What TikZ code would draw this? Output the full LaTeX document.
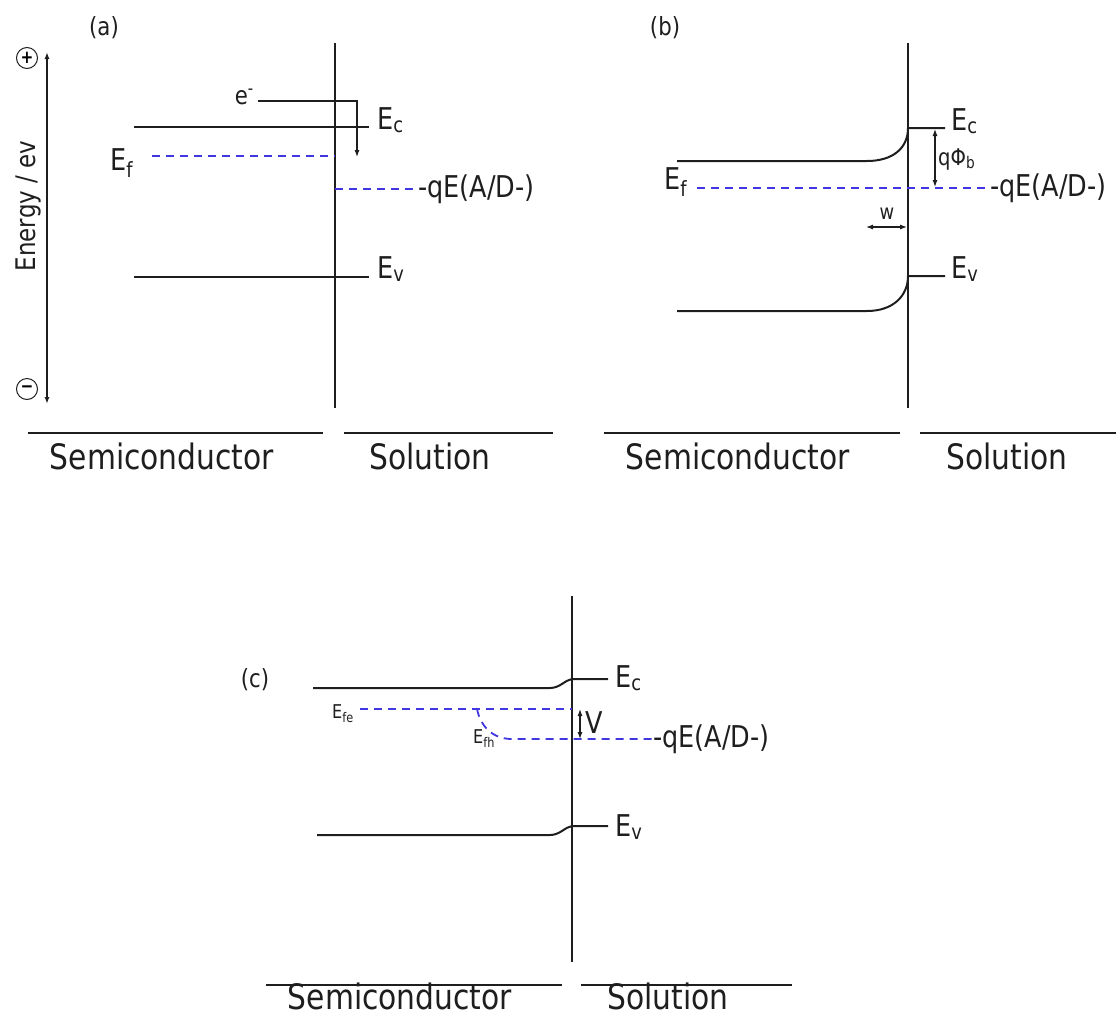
\documentclass[tikz,border=0pt]{standalone}
\usepackage{fontspec}
\setmainfont{DejaVu Sans}[FakeStretch=0.85]
\usetikzlibrary{arrows.meta}
\definecolor{fermi}{RGB}{65,55,225}
\definecolor{ink}{RGB}{30,30,30}
\tikzset{
  band/.style={draw=ink,line width=2pt},
  fermiline/.style={draw=fermi,line width=1.8pt,dash pattern=on 8pt off 6pt},
  thinarrow/.style={draw=ink,line width=1.1pt},
  elabel/.style={font=\fontsize{30}{32}\selectfont,anchor=base west,inner sep=0pt,text=ink},
  smalllabel/.style={font=\fontsize{19}{20}\selectfont,anchor=base west,inner sep=0pt,text=ink},
  redox/.style={font=\fontsize{30}{32}\selectfont,anchor=west,inner sep=0pt,text=ink},
  panel/.style={font=\fontsize{25}{27}\selectfont,text=ink},
  sidetext/.style={font=\fontsize{35}{40}\selectfont,text=ink,inner sep=0pt},
  sign/.style={circle,draw=ink,line width=1pt,minimum size=21pt,inner sep=0pt,font=\bfseries\fontsize{18}{18}\selectfont},
}
\begin{document}
\begin{tikzpicture}[x=1pt,y=-1pt,>={Latex[length=7pt,width=5pt]}]
\useasboundingbox (0,0) rectangle (1116,1018);

% (a) flat bands
\node[panel] (pa) at (104,28) {(a)};
\node[sign] (pos) at (27,58) {+};
\node[sign] (neg) at (27,389) {−};
\coordinate (etop) at (47,52);
\coordinate (ebot) at (47,404);
\draw[band,line width=1.4pt,<->] (ebot) -- (etop);
\node[panel,font=\fontsize{27}{29}\selectfont,rotate=90] (energy) at (28,206) {Energy / ev};
\draw[band] (335,43) -- (335,408);
\draw[band] (134,127) -- (369,127);
\draw[band] (134,277) -- (369,277);
\node[elabel] (eca) at (377,129) {E\textsubscript{c}};
\node[elabel] (eva) at (377,278) {E\textsubscript{v}};
\node[elabel] (efa) at (110,170) {E\textsubscript{f}};
\draw[fermiline] (152,156) -- (335,156);
\draw[fermiline] (335,189) -- (418,189);
\node[redox] (qea) at (418,189) {-qE(A/D-)};
\node[panel,anchor=base east,inner sep=0pt] (elec) at (254,104) {e\textsuperscript{-}};
\draw[thinarrow,->] ([xshift=4pt,yshift=3pt]elec.base east) -| (357,157);

% (b) depletion layer
\node[panel] (pb) at (665,28) {(b)};
\draw[band] (908,43) -- (908,408);
\draw[band] (677,161) -- (867,161) .. controls (893,161) and (908,148) .. (908,128) -- (945,128);
\draw[band] (677,311) -- (867,311) .. controls (893,311) and (908,296) .. (908,276) -- (945,276);
\node[elabel] (ecb) at (951,130) {E\textsubscript{c}};
\node[elabel] (evb) at (951,278) {E\textsubscript{v}};
\node[elabel] (efb) at (664,189) {E\textsubscript{f}};
\draw[fermiline] (697,188) -- (990,188);
\node[redox] (qeb) at (990,188) {-qE(A/D-)};
\draw[thinarrow,<->] (935,129) -- (935,187);
\node[smalllabel,font=\fontsize{23}{25}\selectfont] (phib) at (938,165) {qΦ\textsubscript{b}};
\draw[thinarrow,<->] (866,227) -- (907,227);
\node[panel,font=\fontsize{21}{23}\selectfont] (wid) at (887,214) {w};

% (c) under illumination
\node[panel] (pc) at (255,680) {(c)};
\draw[band] (572,596) -- (572,962);
\draw[band] (313,688) -- (550,688) .. controls (560,688) and (565,680) .. (572,679) -- (608,679);
\draw[band] (317,835) -- (550,835) .. controls (560,835) and (565,827) .. (572,826) -- (608,826);
\node[elabel] (ecc) at (615,687) {E\textsubscript{c}};
\node[elabel] (evc) at (615,836) {E\textsubscript{v}};
\draw[fermiline] (360,709) -- (572,709);
\draw[fermiline] (477,709) .. controls (481,728) and (494,739) .. (512,739) -- (653,739);
\node[smalllabel] (efe) at (332,718) {E\textsubscript{fe}};
\node[smalllabel] (efh) at (473,743) {E\textsubscript{fh}};
\node[redox] (qec) at (653,739) {-qE(A/D-)};
\draw[thinarrow,<->] (580,709) -- (580,739);
\node[elabel] (volt) at (585,733) {V};

% phase labels
\foreach \xa/\xb/\yy in {28/323/433,344/553/433,604/900/433,920/1116/433,266/562/985,581/792/985}
  \draw[band] (\xa,\yy) -- (\xb,\yy);
\foreach \t/\x/\y [count=\i] in {Semiconductor/162/456,Solution/430/456,Semiconductor/738/456,Solution/1007/456,Semiconductor/400/996,Solution/668/996}
  \node[sidetext] (side\i) at (\x,\y) {\t};
\end{tikzpicture}
\end{document}
